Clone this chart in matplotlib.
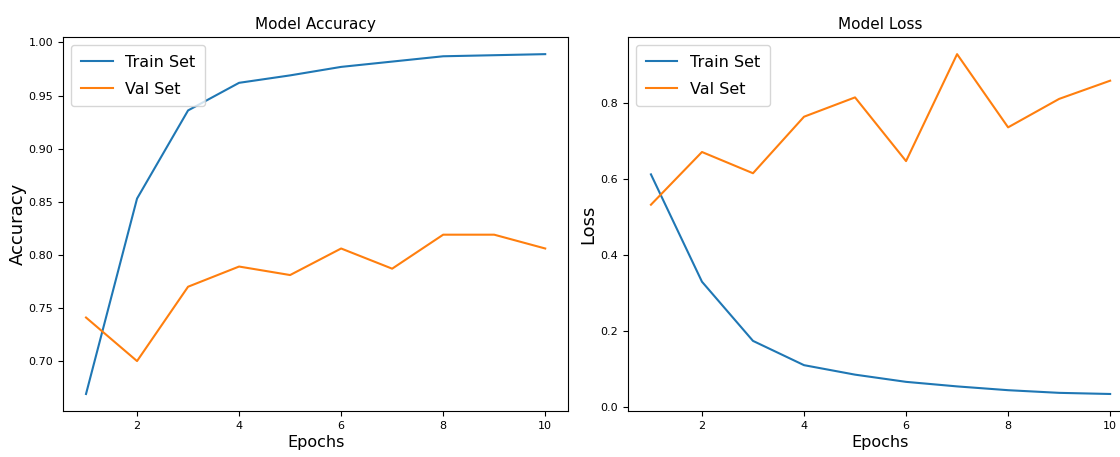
import matplotlib
matplotlib.use("Agg")
from matplotlib import pyplot as plt

epochs = [1, 2, 3, 4, 5, 6, 7, 8, 9, 10]
train_acc = [0.669, 0.853, 0.936, 0.962, 0.969, 0.977, 0.982, 0.987, 0.988, 0.989]
val_acc = [0.741, 0.700, 0.770, 0.789, 0.781, 0.806, 0.787, 0.819, 0.819, 0.806]
train_loss = [0.613, 0.330, 0.174, 0.110, 0.085, 0.066, 0.054, 0.044, 0.037, 0.034]
val_loss = [0.533, 0.672, 0.616, 0.765, 0.816, 0.648, 0.930, 0.737, 0.812, 0.860]

fig = plt.figure(figsize=(11.2, 4.57), dpi=100)
ax1 = fig.add_axes([0.0563, 0.1007, 0.451, 0.818])
ax2 = fig.add_axes([0.5607, 0.1007, 0.451, 0.818])  # runs off the right edge like the original

# accuracy
ax1.plot(epochs, train_acc, label='Train Set')
ax1.plot(epochs, val_acc, label='Val Set')
ax1.set_title('Model Accuracy', fontsize=11)
ax1.set_xlabel('Epochs', fontsize=11.5, labelpad=3)
ax1.set_ylabel('Accuracy', fontsize=13, labelpad=1)
ax1.tick_params(labelsize=8)
ax1.legend(loc='upper left', fontsize=11.5, labelspacing=0.75, borderpad=0.6)

# loss
ax2.plot(epochs, train_loss, label='Train Set')
ax2.plot(epochs, val_loss, label='Val Set')
ax2.set_title('Model Loss', fontsize=11)
ax2.set_xlabel('Epochs', fontsize=11.5, labelpad=3)
ax2.set_ylabel('Loss', fontsize=13, labelpad=2)
ax2.tick_params(labelsize=8)
ax2.legend(loc='upper left', fontsize=11.5, labelspacing=0.75, borderpad=0.6)

fig.savefig('out.png', dpi=100)
